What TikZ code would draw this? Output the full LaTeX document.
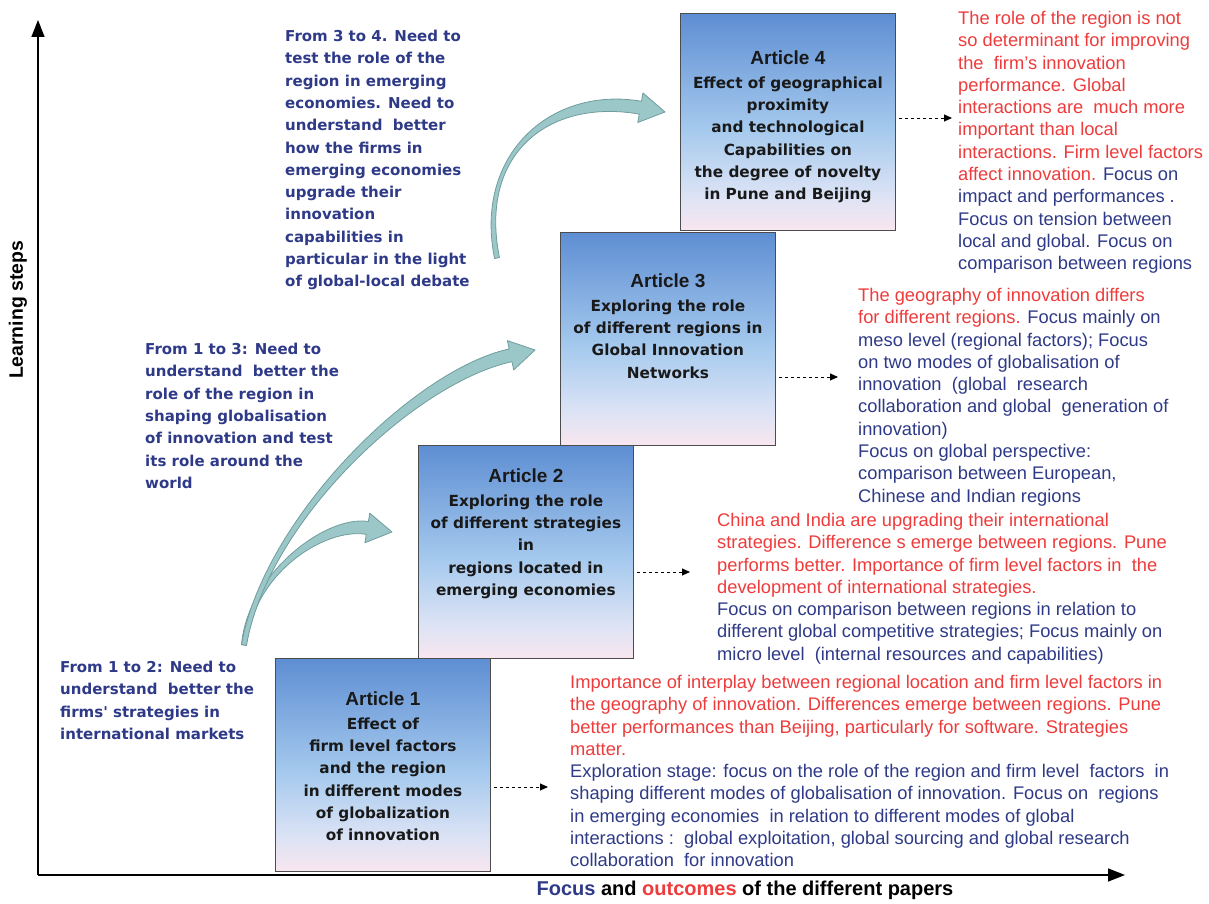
\documentclass[tikz,border=0pt]{standalone}
\usepackage{fontspec}
\setmainfont{Liberation Sans}
\newfontfamily\notefont{DejaVu Sans}
\usetikzlibrary{calc}
\usetikzlibrary{arrows.meta}
\usetikzlibrary{positioning}

\definecolor{navy}{HTML}{2E3A87}
\definecolor{outred}{HTML}{EE3B3B}
\definecolor{boxtop}{HTML}{5E8ED3}
\definecolor{boxmid}{HTML}{A6CAEE}
\definecolor{boxpale}{HTML}{DCE3F5}
\definecolor{boxbot}{HTML}{F8E6EF}
\definecolor{stepfill}{HTML}{9CC7C8}
\definecolor{stepline}{HTML}{6F9D9E}

\pgfdeclareverticalshading{articleshade}{100bp}{color(0bp)=(boxbot); color(25bp)=(boxbot);
  color(33bp)=(boxpale); color(48bp)=(boxmid); color(75bp)=(boxtop); color(100bp)=(boxtop)}

\tikzset{
  axisline/.style={line width=1.5pt, -{Triangle[width=13pt,length=17pt]}},
  article/.style={draw=black!70, line width=0.8pt, shading=articleshade,
    minimum width=215pt, minimum height=213pt, inner sep=0pt, anchor=north west},
  arttitle/.style={font=\bfseries\fontsize{19}{22}\selectfont, inner sep=0pt, anchor=north, text=black!90},
  artbody/.style={font=\notefont\bfseries\fontsize{15.3}{22.3}\selectfont, align=center, inner sep=0pt, anchor=north, text=black!90},
  outcome/.style={font=\fontsize{18.3}{22.3}\selectfont, align=left, inner sep=0pt, anchor=north west, text=navy},
  need/.style={font=\notefont\bfseries\fontsize{15}{22.3}\selectfont, align=left, inner sep=0pt, anchor=north west, text=navy},
  lead/.style={dashed, line width=0.9pt, shorten <=3pt, -{Triangle[width=7pt,length=8pt]}},
  stepup/.style={fill=stepfill, draw=stepline, line width=0.8pt, line join=round}
}

\begin{document}
\begin{tikzpicture}[x=1pt, y=1pt]
  \useasboundingbox (0,0) rectangle (1209,904);

  \coordinate (O) at (38,29);
  \coordinate (Ytop) at (38,884);
  \coordinate (Xend) at (1125,29);
  \draw [axisline] (O) -- (Ytop);
  \draw [axisline] (O) -- (Xend);
  \node [rotate=90, font=\bfseries\fontsize{19.4}{22}\selectfont] (ylab) at (18,594) {Learning steps};
  \node [font=\bfseries\fontsize{20}{22}\selectfont] (xlab) at (745,14)
    {\textcolor{navy}{Focus} and \textcolor{outred}{outcomes} of the different papers};

  \node [article] (a1) at (275,246) {};
  \node [article] (a2) at (418,459) {};
  \node [article] (a3) at (560,672) {};
  \node [article, minimum height=217pt] (a4) at (680,891) {};

  \node [arttitle, below=34pt of a1.north] (t1) {Article 1};
  \node [artbody, below=11pt of t1] (b1) {Effect of\\firm level factors\\and the region\\in different modes\\of globalization\\of innovation};
  \node [arttitle, below=24pt of a2.north] (t2) {Article 2};
  \node [artbody, below=11pt of t2] (b2) {Exploring the role\\of different strategies\\in\\regions located in\\emerging economies};
  \node [arttitle, below=42pt of a3.north] (t3) {Article 3};
  \node [artbody, below=11pt of t3] (b3) {Exploring the role\\of different regions in\\Global Innovation\\Networks};
  \node [arttitle, below=38pt of a4.north] (t4) {Article 4};
  \node [artbody, below=11pt of t4] (b4) {Effect of geographical\\proximity\\and technological\\Capabilities on\\the degree of novelty\\in Pune and Beijing};

  \coordinate (e1) at (548,117);
  \coordinate (e2) at (690,332);
  \coordinate (e3) at (838,527);
  \coordinate (e4) at (952,786);
  \draw [lead] (a1.east |- e1) -- (e1);
  \draw [lead] (a2.east |- e2) -- (e2);
  \draw [lead] (a3.east |- e3) -- (e3);
  \draw [lead] (a4.east |- e4) -- (e4);

  \node [outcome] (d1) at (570,229) {\textcolor{outred}{Importance of interplay between regional location and firm level factors in}\\
    \textcolor{outred}{the geography of innovation. Differences emerge between regions. Pune}\\
    \textcolor{outred}{better performances than Beijing, particularly for software. Strategies}\\
    \textcolor{outred}{matter.}\\
    Exploration stage: focus on the role of the region and firm level\ \ factors\ \ in\\
    shaping different modes of globalisation of innovation. Focus on\ \ regions\\
    in emerging economies\ \ in relation to different modes of global\\
    interactions :\ \ global exploitation, global sourcing and global research\\
    collaboration\ \ for innovation};
  \node [outcome] (d2) at (717,391) {\textcolor{outred}{China and India are upgrading their international}\\
    \textcolor{outred}{strategies. Difference s emerge between regions. Pune}\\
    \textcolor{outred}{performs better. Importance of firm level factors in\ \ the}\\
    \textcolor{outred}{development of international strategies.}\\
    Focus on comparison between regions in relation to\\
    different global competitive strategies; Focus mainly on\\
    micro level\ \ (internal resources and capabilities)};
  \node [outcome] (d3) at (858,616) {\textcolor{outred}{The geography of innovation differs}\\
    \textcolor{outred}{for different regions.} Focus mainly on\\
    meso level (regional factors); Focus\\
    on two modes of globalisation of\\
    innovation\ \ (global\ \ research\\
    collaboration and global\ \ generation of\\
    innovation)\\
    Focus on global perspective:\\
    comparison between European,\\
    Chinese and Indian regions};
  \node [outcome] (d4) at (958,893) {\textcolor{outred}{The role of the region is not}\\
    \textcolor{outred}{so determinant for improving}\\
    \textcolor{outred}{the\ \ firm's innovation}\\
    \textcolor{outred}{performance. Global}\\
    \textcolor{outred}{interactions are\ \ much more}\\
    \textcolor{outred}{important than local}\\
    \textcolor{outred}{interactions. Firm level factors}\\
    \textcolor{outred}{affect innovation.} Focus on\\
    impact and performances .\\
    Focus on tension between\\
    local and global. Focus on\\
    comparison between regions};

  \node [need] (n12) at (60,243) {From 1 to 2: Need to\\understand\ \ better the\\firms' strategies in\\international markets};
  \node [need] (n13) at (145,561) {From 1 to 3: Need to\\understand\ \ better the\\role of the region in\\shaping globalisation\\of innovation and test\\its role around the\\world};
  \node [need] (n34) at (285,874) {From 3 to 4. Need to\\test the role of the\\region in emerging\\economies. Need to\\understand\ \ better\\how the firms in\\emerging economies\\upgrade their\\innovation\\capabilities in\\particular in the light\\of global-local debate};

  \coordinate (s2) at (244,259);
  \coordinate (p2) at (250,330);
  \coordinate (q2) at (325,383);
  \coordinate (h2) at (392,372);
  \coordinate (s3) at (244,259);
  \coordinate (p3) at (266,385);
  \coordinate (q3) at (415,528);
  \coordinate (h3) at (535,554);
  \coordinate (s4) at (497,646);
  \coordinate (p4) at (476,750);
  \coordinate (q4) at (550,812);
  \coordinate (h4) at (665,792);
  \foreach \k in {2,3,4} {
    \coordinate (e) at ($(h\k)!25pt!(q\k)$);
    \coordinate (sl) at ($(s\k)!2.5pt!90:(p\k)$);
    \coordinate (sr) at ($(s\k)!2.5pt!-90:(p\k)$);
    \coordinate (el) at ($(e)!6.5pt!-90:(q\k)$);
    \coordinate (er) at ($(e)!6.5pt!90:(q\k)$);
    \coordinate (wl) at ($(e)!15pt!-90:(q\k)$);
    \coordinate (wr) at ($(e)!15pt!90:(q\k)$);
    \filldraw [stepup] (sl) .. controls ($(p\k)+(sl)-(s\k)$) and ($(q\k)+(el)-(e)$) .. (el)
      -- (wl) -- (h\k) -- (wr) -- (er)
      .. controls ($(q\k)+(er)-(e)$) and ($(p\k)+(sr)-(s\k)$) .. (sr) -- cycle;
  }
\end{tikzpicture}
\end{document}
